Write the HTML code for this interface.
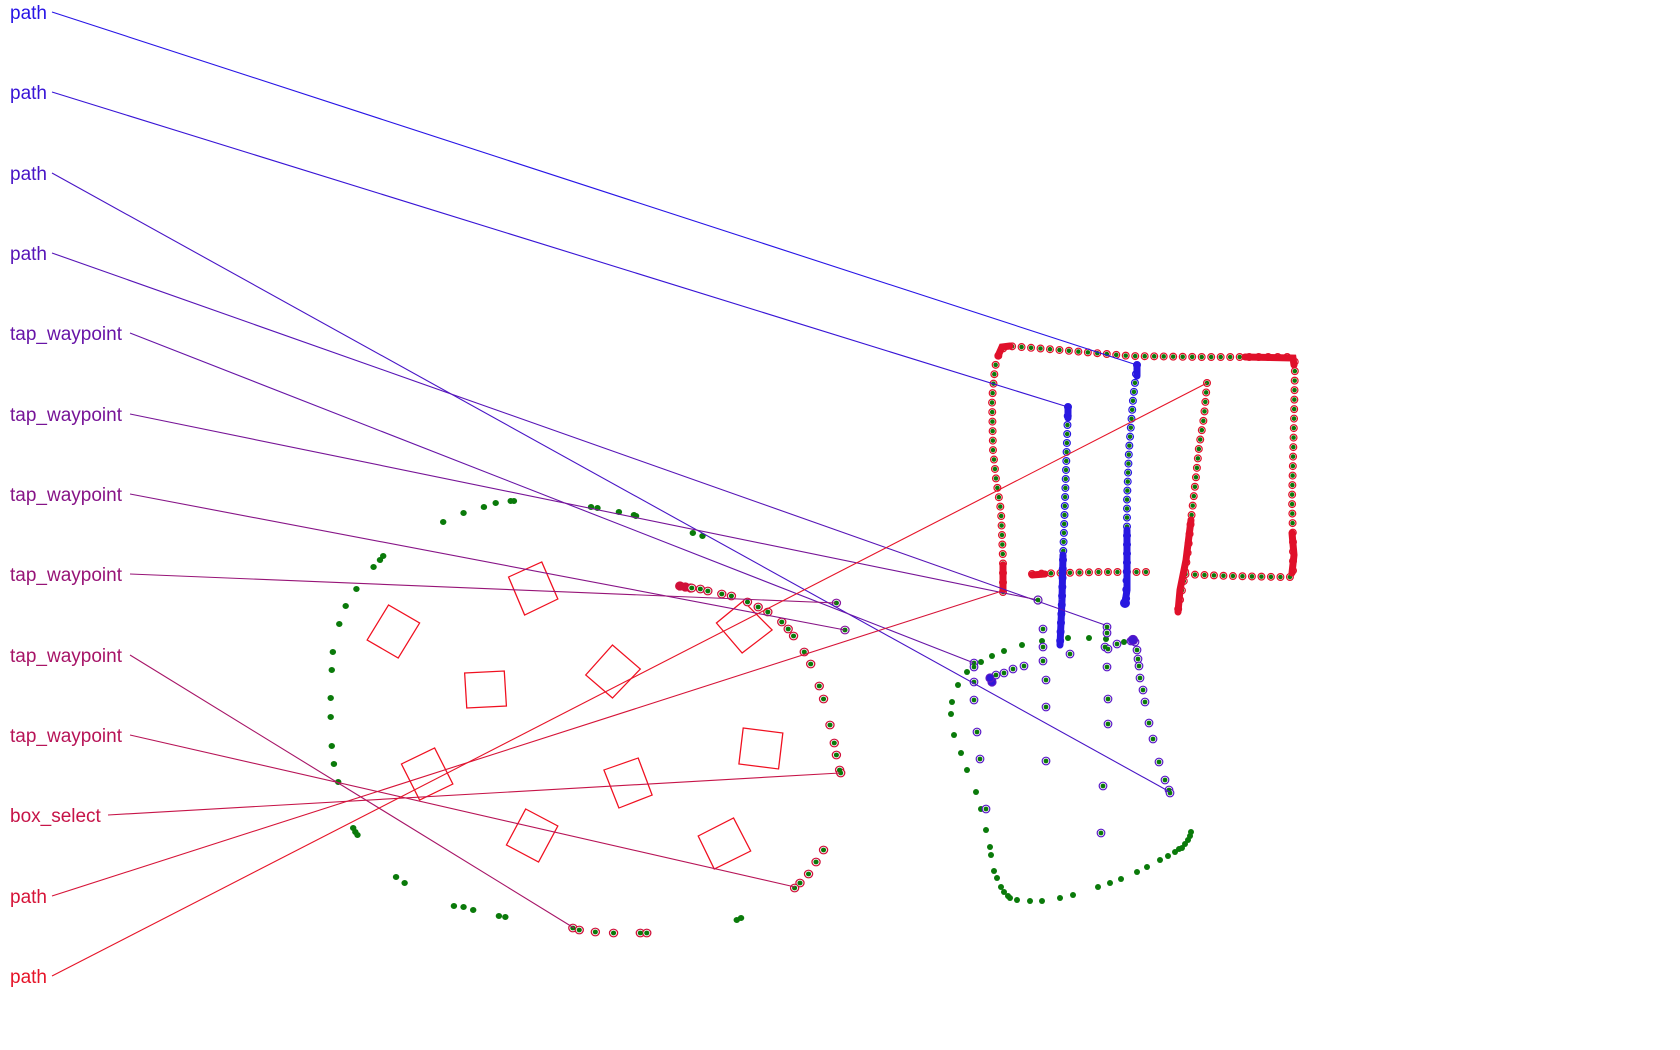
<!DOCTYPE html>
<html><head><meta charset="utf-8"><style>
html,body{margin:0;padding:0;background:#fff;}
svg{display:block;}
text{font-family:"Liberation Sans",sans-serif;font-size:19px;}
</style></head><body>
<svg width="1680" height="1050" viewBox="0 0 1680 1050" xmlns="http://www.w3.org/2000/svg">
<g transform="matrix(1.0714 0 0 1 -22.86 0)">
<!-- squares -->
<g fill="none" stroke="#f01020" stroke-width="1.2">
<polygon points="496,577 527,562 542,599 511,615"/>
<polygon points="364,640 384,605 413,623 393,658"/>
<polygon points="455,673 492,671 494,706 457,708"/>
<polygon points="568,675 593,645 619,669 593,698"/>
<polygon points="690,623 715,601 742,630 714,653"/>
<polygon points="715,728 752,733 748,769 711,764"/>
<polygon points="585,770 617,758 630,795 599,808"/>
<polygon points="396,764 427,748 444,784 413,800"/>
<polygon points="512,809 542,826 524,862 494,845"/>
<polygon points="673,836 706,818 722,851 688,869"/>
</g>
<g fill="#0a7a0a">
<circle cx="435" cy="522" r="3"/><circle cx="454" cy="513" r="3"/><circle cx="473" cy="507" r="3"/><circle cx="484" cy="503" r="3"/><circle cx="498" cy="501" r="3"/><circle cx="501" cy="501" r="3"/><circle cx="573" cy="507" r="3"/><circle cx="579" cy="508" r="3"/><circle cx="599" cy="512" r="3"/><circle cx="613" cy="515" r="3"/><circle cx="615" cy="516" r="3"/><circle cx="668" cy="533" r="3"/><circle cx="677" cy="536" r="3"/><circle cx="379" cy="556" r="3"/><circle cx="376" cy="560" r="3"/><circle cx="370" cy="567" r="3"/><circle cx="354" cy="589" r="3"/><circle cx="344" cy="606" r="3"/><circle cx="338" cy="624" r="3"/><circle cx="332" cy="652" r="3"/><circle cx="331" cy="670" r="3"/><circle cx="330" cy="698" r="3"/><circle cx="330" cy="717" r="3"/><circle cx="331" cy="746" r="3"/><circle cx="333" cy="764" r="3"/><circle cx="337" cy="782" r="3"/><circle cx="351" cy="828" r="3"/><circle cx="353" cy="832" r="3"/><circle cx="355" cy="835" r="3"/><circle cx="391" cy="877" r="3"/><circle cx="399" cy="883" r="3"/><circle cx="445" cy="906" r="3"/><circle cx="454" cy="907" r="3"/><circle cx="463" cy="910" r="3"/><circle cx="487" cy="916" r="3"/><circle cx="493" cy="917" r="3"/><circle cx="709" cy="920" r="3"/><circle cx="713" cy="918" r="3"/>
</g>
<g fill="#fff" stroke="#d0103a" stroke-width="1.2">
<circle cx="656" cy="586" r="4" fill="#d01038"/><circle cx="661" cy="587" r="4" fill="#d01038"/><circle cx="666" cy="588" r="4" fill="#d01038"/>
<circle cx="667" cy="588" r="3.8"/><circle cx="675" cy="589" r="3.8"/><circle cx="682" cy="591" r="3.8"/><circle cx="695" cy="594" r="3.8"/><circle cx="704" cy="596" r="3.8"/><circle cx="719" cy="602" r="3.8"/><circle cx="729" cy="607" r="3.8"/><circle cx="738" cy="612" r="3.8"/><circle cx="751" cy="622" r="3.8"/><circle cx="757" cy="629" r="3.8"/><circle cx="762" cy="636" r="3.8"/><circle cx="772" cy="652" r="3.8"/><circle cx="778" cy="664" r="3.8"/><circle cx="786" cy="686" r="3.8"/><circle cx="790" cy="699" r="3.8"/><circle cx="796" cy="725" r="3.8"/><circle cx="800" cy="743" r="3.8"/><circle cx="802" cy="755" r="3.8"/><circle cx="805" cy="770" r="3.8"/><circle cx="806" cy="773" r="3.8"/>
<circle cx="790" cy="850" r="3.8"/><circle cx="783" cy="862" r="3.8"/><circle cx="776" cy="874" r="3.8"/><circle cx="768" cy="883" r="3.8"/><circle cx="763" cy="888" r="3.8"/>
<circle cx="556" cy="928" r="3.8"/><circle cx="562" cy="930" r="3.8"/><circle cx="577" cy="932" r="3.8"/><circle cx="594" cy="933" r="3.8"/><circle cx="619" cy="933" r="3.8"/><circle cx="625" cy="933" r="3.8"/>
<circle cx="802" cy="603" r="3.8" stroke="#8a18a0"/><circle cx="810" cy="630" r="3.8" stroke="#8a18a0"/>
</g>
<g fill="#0a7a0a">
<circle cx="667" cy="588" r="2.4"/><circle cx="675" cy="589" r="2.4"/><circle cx="682" cy="591" r="2.4"/><circle cx="695" cy="594" r="2.4"/><circle cx="704" cy="596" r="2.4"/><circle cx="719" cy="602" r="2.4"/><circle cx="729" cy="607" r="2.4"/><circle cx="738" cy="612" r="2.4"/><circle cx="751" cy="622" r="2.4"/><circle cx="757" cy="629" r="2.4"/><circle cx="762" cy="636" r="2.4"/><circle cx="772" cy="652" r="2.4"/><circle cx="778" cy="664" r="2.4"/><circle cx="786" cy="686" r="2.4"/><circle cx="790" cy="699" r="2.4"/><circle cx="796" cy="725" r="2.4"/><circle cx="800" cy="743" r="2.4"/><circle cx="802" cy="755" r="2.4"/><circle cx="805" cy="770" r="2.4"/><circle cx="806" cy="773" r="2.4"/>
<circle cx="790" cy="850" r="2.4"/><circle cx="783" cy="862" r="2.4"/><circle cx="776" cy="874" r="2.4"/><circle cx="768" cy="883" r="2.4"/><circle cx="763" cy="888" r="2.4"/>
<circle cx="556" cy="928" r="2.4"/><circle cx="562" cy="930" r="2.4"/><circle cx="577" cy="932" r="2.4"/><circle cx="594" cy="933" r="2.4"/><circle cx="619" cy="933" r="2.4"/><circle cx="625" cy="933" r="2.4"/>
<circle cx="802" cy="603" r="2.4"/><circle cx="810" cy="630" r="2.4"/>
</g>
</g>
<!-- green-only dots right -->
<g fill="#0a7a0a">
<circle cx="1022" cy="645" r="3"/><circle cx="1004" cy="651" r="3"/><circle cx="992" cy="656" r="3"/><circle cx="981" cy="662" r="3"/><circle cx="967" cy="672" r="3"/><circle cx="958" cy="685" r="3"/><circle cx="952" cy="702" r="3"/><circle cx="951" cy="714" r="3"/><circle cx="954" cy="735" r="3"/><circle cx="961" cy="753" r="3"/><circle cx="967" cy="770" r="3"/><circle cx="976" cy="792" r="3"/><circle cx="981" cy="809" r="3"/><circle cx="986" cy="830" r="3"/><circle cx="990" cy="847" r="3"/><circle cx="991" cy="855" r="3"/><circle cx="994" cy="871" r="3"/><circle cx="997" cy="878" r="3"/><circle cx="1001" cy="887" r="3"/><circle cx="1004" cy="892" r="3"/><circle cx="1008" cy="896" r="3"/><circle cx="1010" cy="898" r="3"/><circle cx="1017" cy="900" r="3"/><circle cx="1030" cy="901" r="3"/><circle cx="1042" cy="901" r="3"/><circle cx="1060" cy="898" r="3"/><circle cx="1073" cy="895" r="3"/><circle cx="1098" cy="887" r="3"/><circle cx="1110" cy="883" r="3"/><circle cx="1121" cy="879" r="3"/><circle cx="1137" cy="872" r="3"/><circle cx="1147" cy="867" r="3"/><circle cx="1160" cy="860" r="3"/><circle cx="1168" cy="856" r="3"/><circle cx="1175" cy="852" r="3"/><circle cx="1179" cy="849" r="3"/><circle cx="1182" cy="848" r="3"/><circle cx="1185" cy="844" r="3"/><circle cx="1188" cy="840" r="3"/><circle cx="1190" cy="836" r="3"/><circle cx="1191" cy="832" r="3"/>
<circle cx="1068" cy="638" r="3"/><circle cx="1089" cy="638" r="3"/><circle cx="1106" cy="639" r="3"/><circle cx="1042" cy="641" r="3"/><circle cx="1124" cy="642" r="3"/>
</g>
<!-- ringed dots: purple lower right -->
<g fill="#fff" stroke="#5a18c8" stroke-width="1.2">
<circle cx="1043" cy="629" r="3.8"/><circle cx="1043" cy="647" r="3.8"/><circle cx="1043" cy="661" r="3.8"/><circle cx="1046" cy="680" r="3.8"/><circle cx="1046" cy="707" r="3.8"/><circle cx="1046" cy="761" r="3.8"/><circle cx="974" cy="663" r="3.8"/><circle cx="974" cy="667" r="3.8"/><circle cx="974" cy="682" r="3.8"/><circle cx="974" cy="700" r="3.8"/><circle cx="977" cy="732" r="3.8"/><circle cx="980" cy="759" r="3.8"/><circle cx="986" cy="809" r="3.8"/><circle cx="992" cy="678" r="3.8"/><circle cx="996" cy="675" r="3.8"/><circle cx="1004" cy="673" r="3.8"/><circle cx="1013" cy="669" r="3.8"/><circle cx="1024" cy="666" r="3.8"/><circle cx="1070" cy="654" r="3.8"/><circle cx="1107" cy="627" r="3.8"/><circle cx="1107" cy="633" r="3.8"/><circle cx="1105" cy="647" r="3.8"/><circle cx="1108" cy="649" r="3.8"/><circle cx="1107" cy="667" r="3.8"/><circle cx="1108" cy="699" r="3.8"/><circle cx="1108" cy="724" r="3.8"/><circle cx="1103" cy="786" r="3.8"/><circle cx="1101" cy="833" r="3.8"/><circle cx="1117" cy="644" r="3.8"/><circle cx="1131" cy="641" r="3.8"/><circle cx="1135" cy="642" r="3.8"/><circle cx="1137" cy="650" r="3.8"/><circle cx="1138" cy="659" r="3.8"/><circle cx="1139" cy="666" r="3.8"/><circle cx="1140" cy="678" r="3.8"/><circle cx="1143" cy="690" r="3.8"/><circle cx="1145" cy="702" r="3.8"/><circle cx="1149" cy="723" r="3.8"/><circle cx="1153" cy="739" r="3.8"/><circle cx="1159" cy="762" r="3.8"/><circle cx="1165" cy="780" r="3.8"/><circle cx="1169" cy="790" r="3.8"/><circle cx="1170" cy="793" r="3.8"/>
<circle cx="1133" cy="640" r="4.5" fill="#4018d0"/><circle cx="992" cy="682" r="4" fill="#3018d8"/><circle cx="990" cy="678" r="4" fill="#3018d8"/>
</g>
<g fill="#0a7a0a">
<circle cx="1043" cy="629" r="2.4"/><circle cx="1043" cy="647" r="2.4"/><circle cx="1043" cy="661" r="2.4"/><circle cx="1046" cy="680" r="2.4"/><circle cx="1046" cy="707" r="2.4"/><circle cx="1046" cy="761" r="2.4"/><circle cx="974" cy="663" r="2.4"/><circle cx="974" cy="667" r="2.4"/><circle cx="974" cy="682" r="2.4"/><circle cx="974" cy="700" r="2.4"/><circle cx="977" cy="732" r="2.4"/><circle cx="980" cy="759" r="2.4"/><circle cx="986" cy="809" r="2.4"/><circle cx="996" cy="675" r="2.4"/><circle cx="1004" cy="673" r="2.4"/><circle cx="1013" cy="669" r="2.4"/><circle cx="1024" cy="666" r="2.4"/><circle cx="1070" cy="654" r="2.4"/><circle cx="1107" cy="627" r="2.4"/><circle cx="1107" cy="633" r="2.4"/><circle cx="1105" cy="647" r="2.4"/><circle cx="1108" cy="649" r="2.4"/><circle cx="1107" cy="667" r="2.4"/><circle cx="1108" cy="699" r="2.4"/><circle cx="1108" cy="724" r="2.4"/><circle cx="1103" cy="786" r="2.4"/><circle cx="1101" cy="833" r="2.4"/><circle cx="1117" cy="644" r="2.4"/><circle cx="1137" cy="650" r="2.4"/><circle cx="1138" cy="659" r="2.4"/><circle cx="1139" cy="666" r="2.4"/><circle cx="1140" cy="678" r="2.4"/><circle cx="1143" cy="690" r="2.4"/><circle cx="1145" cy="702" r="2.4"/><circle cx="1149" cy="723" r="2.4"/><circle cx="1153" cy="739" r="2.4"/><circle cx="1159" cy="762" r="2.4"/><circle cx="1165" cy="780" r="2.4"/><circle cx="1169" cy="790" r="2.4"/><circle cx="1170" cy="793" r="2.4"/>
</g>
<!-- big red box -->
<g fill="none">
 <polyline id="p1" points="1003,592 1003,560 1001,511 996,479 993,450 992,400 995,367 1000,350 1008,346 1060,350 1130,356 1200,357 1290,357 1295,362 1294,420 1292,500 1293,540 1293,577 1280,577 1230,576 1178,574"/>
 <polyline id="p2" points="1032,574 1060,573 1100,572 1152,572"/>
 <polyline id="p3" points="1207,383 1204,417 1199,447 1196,477 1193,503 1191,520 1188,550 1184,580 1178,610"/>
</g>
<g fill="none" stroke-linecap="round" stroke="#e0102a" stroke-width="8" stroke-dasharray="0 9.5">
 <use href="#p1"/><use href="#p2"/><use href="#p3"/>
</g>
<g fill="none" stroke-linecap="round" stroke="#fff" stroke-width="5.6" stroke-dasharray="0 9.5">
 <use href="#p1"/><use href="#p2"/><use href="#p3"/>
</g>
<g fill="none" stroke-linecap="round" stroke="#0a7a0a" stroke-width="4.6" stroke-dasharray="0 9.5">
 <use href="#p1"/><use href="#p2"/><use href="#p3"/>
</g>
<g stroke="#e0102a" stroke-width="7" stroke-linecap="round" fill="none">
 <polyline points="998,356 1002,347 1010,346"/>
 <polyline points="1245,357 1293,358 1294,365"/>
 <polyline points="1292,533 1294,555 1292,573"/>
 <polyline points="1003,565 1003,590"/>
 <polyline points="1032,575 1045,574"/>
 <polyline points="1191,520 1186,560 1180,590 1178,612"/>
</g>
<!-- blue columns -->
<polyline id="b1" points="1068,407 1067,440 1065,500 1063,560 1062,600 1060,645" fill="none"/>
<polyline id="b2" points="1137,365 1133,400 1129,450 1127,500 1127,560 1126,603" fill="none"/>
<g fill="none" stroke-linecap="round" stroke="#2818e0" stroke-width="8" stroke-dasharray="0 9">
 <use href="#b1"/><use href="#b2"/>
</g>
<g fill="none" stroke-linecap="round" stroke="#fff" stroke-width="5.6" stroke-dasharray="0 9">
 <use href="#b1"/><use href="#b2"/>
</g>
<g fill="none" stroke-linecap="round" stroke="#0a7a0a" stroke-width="4.6" stroke-dasharray="0 9">
 <use href="#b1"/><use href="#b2"/>
</g>
<g stroke="#2818e0" stroke-width="7" stroke-linecap="round" fill="none">
 <polyline points="1137,365 1137,376"/>
 <polyline points="1068,407 1068,418"/>
 <polyline points="1063,555 1062,600 1060,645"/>
 <polyline points="1127,530 1127,590 1125,603"/>
</g>
<circle cx="1125" cy="603" r="5" fill="#2818e0"/>
<!-- connector lines -->
<g fill="none" stroke-width="1.1">
<line x1="52" y1="12" x2="1140" y2="366" stroke="rgb(40,20,230)"/>
<line x1="52" y1="92" x2="1068" y2="407" stroke="rgb(56,20,214)"/>
<line x1="52" y1="173" x2="1170" y2="792" stroke="rgb(72,20,198)"/>
<line x1="52" y1="253" x2="1105" y2="625" stroke="rgb(87,20,183)"/>
<line x1="130" y1="333" x2="974" y2="663" stroke="rgb(103,20,167)"/>
<line x1="130" y1="414" x2="1038" y2="600" stroke="rgb(119,20,151)"/>
<line x1="130" y1="494" x2="845" y2="630" stroke="rgb(135,20,135)"/>
<line x1="130" y1="574" x2="836" y2="603" stroke="rgb(151,20,119)"/>
<line x1="130" y1="655" x2="574" y2="928" stroke="rgb(167,20,103)"/>
<line x1="130" y1="735" x2="795" y2="887" stroke="rgb(183,20,87)"/>
<line x1="108" y1="815" x2="840" y2="773" stroke="rgb(198,20,72)"/>
<line x1="52" y1="896" x2="1002" y2="591" stroke="rgb(214,20,56)"/>
<line x1="52" y1="976" x2="1207" y2="383" stroke="rgb(230,20,40)"/>
</g>
<circle cx="1038" cy="600" r="4" fill="none" stroke="#6018b0" stroke-width="1.2"/>
<circle cx="1038" cy="600" r="2.4" fill="#0a7a0a"/>
<!-- labels -->
<text x="10" y="19" fill="rgb(40,20,230)">path</text>
<text x="10" y="99" fill="rgb(56,20,214)">path</text>
<text x="10" y="180" fill="rgb(72,20,198)">path</text>
<text x="10" y="260" fill="rgb(87,20,183)">path</text>
<text x="10" y="340" fill="rgb(103,20,167)">tap_waypoint</text>
<text x="10" y="421" fill="rgb(119,20,151)">tap_waypoint</text>
<text x="10" y="501" fill="rgb(135,20,135)">tap_waypoint</text>
<text x="10" y="581" fill="rgb(151,20,119)">tap_waypoint</text>
<text x="10" y="662" fill="rgb(167,20,103)">tap_waypoint</text>
<text x="10" y="742" fill="rgb(183,20,87)">tap_waypoint</text>
<text x="10" y="822" fill="rgb(198,20,72)">box_select</text>
<text x="10" y="903" fill="rgb(214,20,56)">path</text>
<text x="10" y="983" fill="rgb(230,20,40)">path</text>
</svg>
</body></html>
